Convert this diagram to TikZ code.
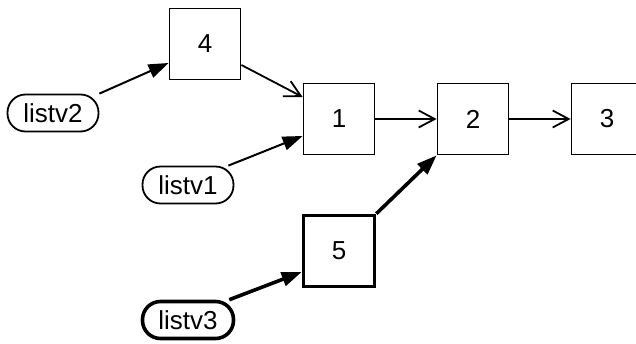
\documentclass[tikz,border=0pt]{standalone}
\usepackage{fontspec}
\setmainfont{Liberation Sans}
\usetikzlibrary{arrows.meta, positioning}
\tikzstyle{ptr} = [line width=2pt,-{Triangle[length=20pt,width=14pt]}]
\tikzstyle{link} = [line width=1.8pt,-{Straight Barb[length=16pt,width=17pt]}]

\begin{document}
\begin{tikzpicture}[x=1pt,y=1pt,node distance=134pt,
  box node/.style={rectangle, draw, line width=1.8pt, minimum size=71pt, inner sep=0pt, font=\fontsize{26}{30}\selectfont},
  list node/.style={rectangle, rounded corners=18pt, draw, line width=1.8pt, minimum width=91pt, minimum height=37pt, inner sep=0pt, font=\fontsize{26}{30}\selectfont}]
  \useasboundingbox (0,0) rectangle (636,343);
  \node[box node] (1) at (339,224) {1};
  \node[box node] (2) [right of=1] {2};
  \node[box node] (3) [right of=2] {3};
  \node[box node] (4) at (205,299) {4};
  \node[box node, line width=3.6pt] (5) at (339,92) {5};
  \node[list node] (v2) at (53,230) {listv2};
  \node[list node] (v1) at (188,158) {listv1};
  \node[list node, line width=3.6pt] (v3) at (188,23) {listv3};
  \path[link]
  ([yshift=-21pt]4.east) edge ([yshift=22pt]1.west)
  (1) edge (2)
  (2) edge (3);
  \path[ptr]
  (v2.north east) edge ([yshift=-19pt]4.west)
  ([xshift=-6pt]v1.north east) edge ([yshift=-17pt]1.west);
  \path[ptr, line width=3.6pt]
  ([xshift=-6pt]v3.north east) edge ([yshift=-21pt]5.west)
  (5.north east) edge (2.south west);
\end{tikzpicture}
\end{document}
